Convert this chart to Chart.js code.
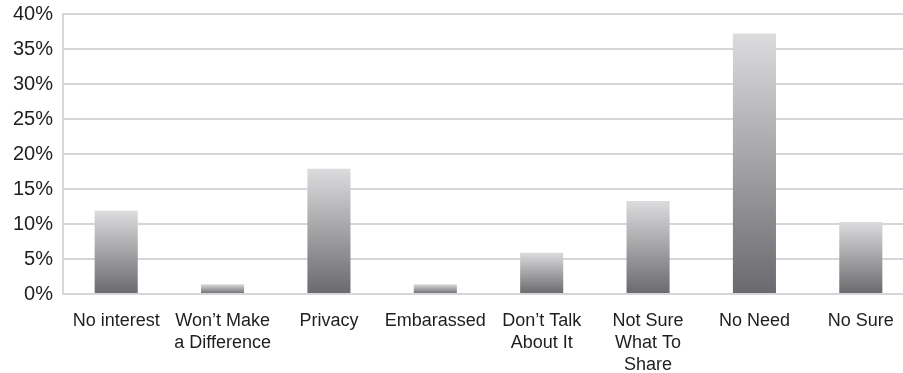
<!DOCTYPE html>
<html>
<head>
<meta charset="utf-8">
<script src="https://cdn.jsdelivr.net/npm/chart.js@4.4.1/dist/chart.umd.min.js"></script>
<style>
  html, body { margin: 0; padding: 0; background: #fff; overflow: hidden; }
  #wrap { width: 914px; height: 373px; }
</style>
</head>
<body>
<div id="wrap"><canvas id="reasonsChart"></canvas></div>
<script>
// --- Data ---
const categories = [
  "No interest",
  ["Won’t Make", "a Difference"],
  "Privacy",
  "Embarassed",
  ["Don’t Talk", "About It"],
  ["Not Sure", "What To", "Share"],
  "No Need",
  "No Sure"
];
const shares = [11.9, 1.4, 17.9, 1.4, 5.9, 13.3, 37.2, 10.3];
const yTicks = [0, 5, 10, 15, 20, 25, 30, 35, 40];

const gridGray = "#d6d6d8";
const textColor = "#1e1e1e";

// light at the top of each bar, darker at its base
function barGradient(ctx) {
  const chart = ctx.chart;
  if (!chart.chartArea || ctx.type !== "data") return "#a0a0a4";
  const y = chart.scales.y;
  const top = y.getPixelForValue(ctx.raw);
  const bottom = y.getPixelForValue(0);
  const g = chart.ctx.createLinearGradient(0, top, 0, bottom);
  g.addColorStop(0, "#dcdcde");
  g.addColorStop(1, "#6a6a6e");
  return g;
}

new Chart(document.getElementById("reasonsChart"), {
  type: "bar",
  data: {
    labels: categories,
    datasets: [{
      data: shares,
      backgroundColor: barGradient,
      borderWidth: 0,
      categoryPercentage: 1,
      barPercentage: 0.405
    }]
  },
  options: {
    responsive: true,
    maintainAspectRatio: false,
    animation: false,
    layout: { padding: { top: 14, right: 0, left: 0, bottom: 0 } },
    plugins: { legend: { display: false }, tooltip: { enabled: false } },
    scales: {
      x: {
        grid: { display: false, drawTicks: false },
        border: { display: false },
        ticks: {
          color: textColor,
          font: { family: "'Liberation Sans', Arial, sans-serif", size: 18, lineHeight: 1.22 },
          padding: 16,
          maxRotation: 0,
          autoSkip: false
        },
        afterFit: s => { s.height = 79; }
      },
      y: {
        min: 0,
        max: 40,
        afterBuildTicks: s => { s.ticks = yTicks.map(v => ({ value: v })); },
        grid: { color: gridGray, lineWidth: 2, drawTicks: false },
        border: { display: true, color: gridGray, width: 2 },
        ticks: {
          color: textColor,
          font: { family: "'Liberation Sans', Arial, sans-serif", size: 20 },
          padding: 10,
          callback: v => v + "%"
        },
        afterFit: s => { s.width = 63; s.paddingTop = 0; s.paddingBottom = 0; }
      }
    }
  }
});
</script>
</body>
</html>
